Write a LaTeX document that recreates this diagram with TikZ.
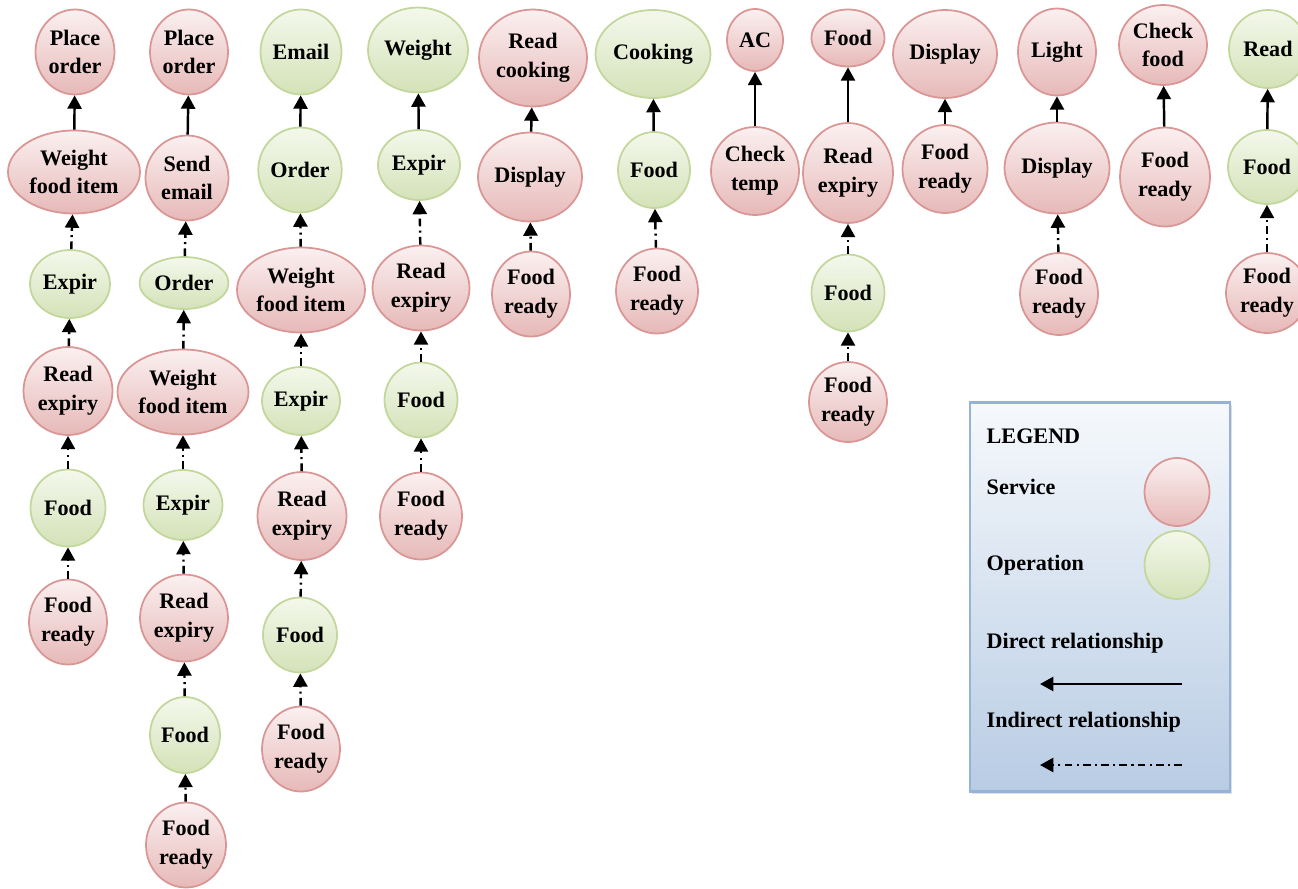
\documentclass[tikz,border=0pt]{standalone}
\usepackage{fontspec}
\setmainfont{Liberation Serif}
\usepackage{xcolor}
\usetikzlibrary{arrows.meta,shapes.geometric,shadows}

\definecolor{svcTop}{HTML}{FBF0F0}
\definecolor{svcBot}{HTML}{E6B9B8}
\definecolor{svcLine}{HTML}{D99694}
\definecolor{opTop}{HTML}{F4F8EC}
\definecolor{opBot}{HTML}{D4E2B8}
\definecolor{opLine}{HTML}{C3D69B}
\definecolor{legTop}{HTML}{F6F9FC}
\definecolor{legBot}{HTML}{B8CCE4}
\definecolor{legLine}{HTML}{95B3D7}

\begin{document}
\begin{tikzpicture}[x=0.1mm,y=-0.1mm,
  every node/.style={font=\fontsize{6.3}{8.2}\selectfont\bfseries},
  svc/.style={ellipse,draw=svcLine,line width=0.5pt,top color=svcTop,bottom color=svcBot,align=center,inner sep=0pt},
  op/.style={ellipse,draw=opLine,line width=0.5pt,top color=opTop,bottom color=opBot,align=center,inner sep=0pt},
  sz/.style 2 args={minimum width=#1mm,minimum height=#2mm},
  dir/.style={-{Triangle[length=3.8pt,width=4pt]},line width=0.7pt},
  ind/.style={dir,dash pattern=on 2.2pt off 1.2pt on 0.6pt off 1.2pt}]

\useasboundingbox (0,0) rectangle (1298,888);

% column 1
\node[svc,sz={7.9}{8.5}] (po1) at (75,52) {Place\\order};
\node[svc,sz={13.2}{8.3}] (wf1) at (74,172) {Weight\\food item};
\node[op,sz={8.0}{6.8}] (ex1) at (70,284) {Expir};
\node[svc,sz={8.9}{8.8}] (re1) at (68,391) {Read\\expiry};
\node[op,sz={7.5}{7.7}] (fd1) at (68,508) {Food};
\node[svc,sz={7.8}{8.5}] (fr1) at (68,622) {Food\\ready};

% column 2
\node[svc,sz={7.8}{8.5}] (po2) at (189,52) {Place\\order};
\node[svc,sz={8.3}{8.5}] (se2) at (187,178) {Send\\email};
\node[op,sz={8.9}{5.2}] (or2) at (184,283) {Order};
\node[svc,sz={13.1}{8.5}] (wf2) at (183,392) {Weight\\food item};
\node[op,sz={7.9}{7.0}] (ex2) at (183,505) {Expir};
\node[svc,sz={8.8}{8.7}] (re2) at (184,618) {Read\\expiry};
\node[op,sz={7.0}{7.6}] (fd2) at (185,735) {Food};
\node[svc,sz={8.0}{8.5}] (fr2) at (186,845) {Food\\ready};

% column 3
\node[op,sz={8.1}{8.5}] (em3) at (301,52) {Email};
\node[op,sz={8.2}{8.5}] (or3) at (300,170) {Order};
\node[svc,sz={12.8}{8.5}] (wf3) at (301,290) {Weight\\food item};
\node[op,sz={7.8}{6.8}] (ex3) at (301,401) {Expir};
\node[svc,sz={8.9}{8.8}] (re3) at (302,516) {Read\\expiry};
\node[op,sz={7.4}{7.5}] (fd3) at (300,635) {Food};
\node[svc,sz={7.8}{8.5}] (fr3) at (301,749) {Food\\ready};

% column 4
\node[op,sz={10.0}{8.5}] (wt4) at (418,50) {Weight};
\node[op,sz={8.2}{7.0}] (ex4) at (419,165) {Expir};
\node[svc,sz={9.7}{8.5}] (re4) at (421,288) {Read\\expiry};
\node[op,sz={7.3}{7.5}] (fd4) at (421,400) {Food};
\node[svc,sz={8.2}{8.7}] (fr4) at (421,516) {Food\\ready};

% column 5
\node[svc,sz={10.8}{9.7}] (rc5) at (533,58) {Read\\cooking};
\node[svc,sz={10.4}{8.9}] (di5) at (530,177) {Display};
\node[svc,sz={7.8}{8.5}] (fr5) at (531,294) {Food\\ready};

% column 6
\node[op,sz={11.5}{8.8}] (ck6) at (653,54) {Cooking};
\node[op,sz={7.2}{7.6}] (fd6) at (654,170) {Food};
\node[svc,sz={8.2}{8.5}] (fr6) at (657,291) {Food\\ready};

% column 7
\node[svc,sz={5.6}{6.2}] (ac7) at (755,40) {AC};
\node[svc,sz={8.8}{8.8}] (ct7) at (755,171) {Check\\temp};

% column 8
\node[svc,sz={7.3}{5.7}] (fd8) at (848,38) {Food};
\node[svc,sz={9.0}{10.0}] (re8) at (848,173) {Read\\expiry};
\node[op,sz={7.3}{7.7}] (fo8) at (848,293) {Food};
\node[svc,sz={7.8}{8.0}] (fr8) at (848,402) {Food\\ready};

% column 9
\node[svc,sz={10.4}{8.8}] (di9) at (945,54) {Display};
\node[svc,sz={8.5}{8.8}] (fr9) at (945,169) {Food\\ready};

% column 10
\node[svc,sz={7.8}{8.7}] (li10) at (1057,52) {Light};
\node[svc,sz={10.5}{9.1}] (di10) at (1057,168) {Display};
\node[svc,sz={7.8}{8.2}] (fr10) at (1059,294) {Food\\ready};

% column 11
\node[svc,sz={8.8}{8.0}] (cf11) at (1163,45) {Check\\food};
\node[svc,sz={9.0}{9.9}] (fr11) at (1165,177) {Food\\ready};

% column 12
\node[op,sz={7.8}{7.8}] (rd12) at (1268,49) {Read};
\node[op,sz={7.8}{7.4}] (fd12) at (1267,167) {Food};
\node[svc,sz={8.2}{8.0}] (fr12) at (1267,293) {Food\\ready};

% direct relationships
\draw[dir] (wf1) -- (po1);
\draw[dir] (se2) -- (po2);
\draw[dir] (or3) -- (em3);
\draw[dir] (ex4) -- (wt4);
\draw[dir] (di5) -- (rc5);
\draw[dir] (fd6) -- (ck6);
\draw[dir] (ct7) -- (ac7);
\draw[dir] (re8) -- (fd8);
\draw[dir] (fr9) -- (di9);
\draw[dir] (di10) -- (li10);
\draw[dir] (fr11) -- (cf11);
\draw[dir] (fd12) -- (rd12);

% indirect relationships
\draw[ind] (ex1) -- (wf1);
\draw[ind] (re1) -- (ex1);
\draw[ind] (fd1) -- (re1);
\draw[ind] (fr1) -- (fd1);

\draw[ind] (or2) -- (se2);
\draw[ind] (wf2) -- (or2);
\draw[ind] (ex2) -- (wf2);
\draw[ind] (re2) -- (ex2);
\draw[ind] (fd2) -- (re2);
\draw[ind] (fr2) -- (fd2);

\draw[ind] (wf3) -- (or3);
\draw[ind] (ex3) -- (wf3);
\draw[ind] (re3) -- (ex3);
\draw[ind] (fd3) -- (re3);
\draw[ind] (fr3) -- (fd3);

\draw[ind] (re4) -- (ex4);
\draw[ind] (fd4) -- (re4);
\draw[ind] (fr4) -- (fd4);

\draw[ind] (fr5) -- (di5);
\draw[ind] (fr6) -- (fd6);
\draw[ind] (fo8) -- (re8);
\draw[ind] (fr8) -- (fo8);
\draw[ind] (fr10) -- (di10);
\draw[ind] (fr12) -- (fd12);

% legend
\node[draw=legLine,line width=0.7pt,top color=legTop,bottom color=legBot,
  minimum width=26mm,minimum height=38.9mm,inner sep=0pt,
  drop shadow={opacity=0.25,shadow xshift=0.6pt,shadow yshift=-0.6pt}] (legend) at (1100,597) {};
\node[anchor=west,inner sep=0pt] (lgHead) at (986,436) {LEGEND};
\node[anchor=west,inner sep=0pt] (lgSvc) at (986,487) {Service};
\node[anchor=west,inner sep=0pt] (lgOp) at (986,565) {Operation};
\node[anchor=west,inner sep=0pt] (lgDir) at (986,643) {Direct relationship};
\node[anchor=west,inner sep=0pt] (lgInd) at (986,722) {Indirect relationship};
\node[svc,sz={6.5}{6.8}] (kSvc) at (1177,492) {};
\node[op,sz={6.5}{6.8}] (kOp) at (1177,565) {};
\coordinate (dirA) at (1182,684);
\coordinate (dirB) at (1040,684);
\coordinate (indA) at (1182,765);
\coordinate (indB) at (1040,765);
\draw[dir] (dirA) -- (dirB);
\draw[ind] (indA) -- (indB);
\end{tikzpicture}
\end{document}
